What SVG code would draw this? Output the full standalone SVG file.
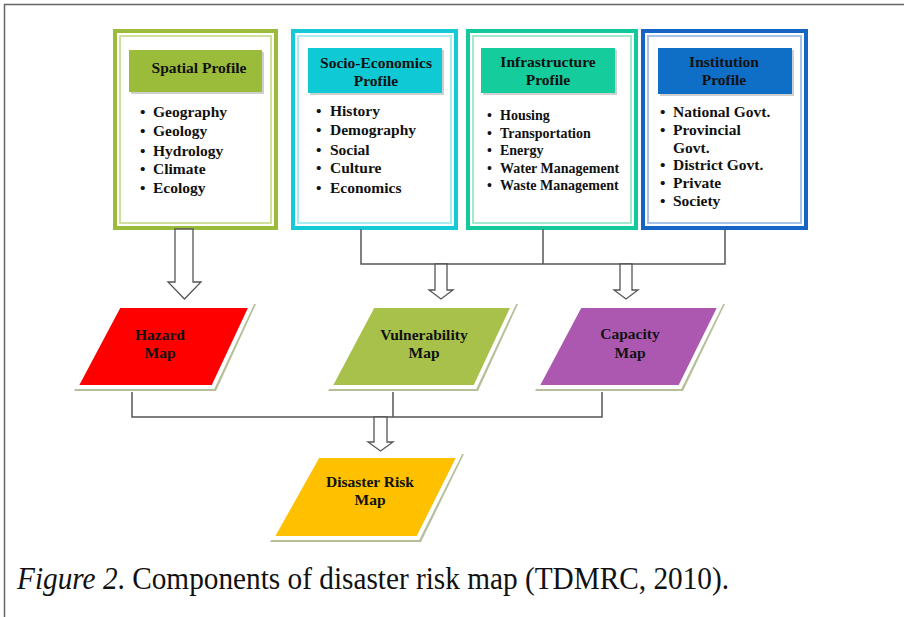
<svg xmlns="http://www.w3.org/2000/svg" width="904" height="617" viewBox="0 0 904 617">
<style>
.t{font-family:"Liberation Serif","Times New Roman",serif;font-weight:bold;font-size:15.5px;fill:#111}
.s{font-size:14px}
.c{text-anchor:middle}
.conn{fill:none;stroke:#555;stroke-width:1.5}
.arr{fill:#fff;stroke:#555;stroke-width:1.3}
.sh{fill:#b7bf9a}
.pw{stroke:#fff;stroke-width:4}
.tsh{fill:#cfcfcf}
.cap{font-family:"Liberation Serif","Times New Roman",serif;font-size:31px;fill:#111}
</style>
<rect width="904" height="617" fill="#fff"/>
<path d="M4.5 617 V4.5 H904" fill="none" stroke="#666" stroke-width="1.5"/>

<g id="spatial">
<rect x="115" y="31" width="161" height="197" fill="#fff" stroke="#9bbb3b" stroke-width="4"/>
<rect x="120" y="36" width="151" height="187" fill="none" stroke="#cfe09c" stroke-width="2"/>
<rect x="131" y="52" width="133" height="42" class="tsh"/>
<rect x="129" y="50" width="133" height="42" fill="#9bbb3b"/>
<text class="t c" x="199" y="73">Spatial Profile</text>
<text class="t"><tspan x="140" y="117">•</tspan><tspan x="153">Geography</tspan><tspan x="140" y="136">•</tspan><tspan x="153">Geology</tspan><tspan x="140" y="156">•</tspan><tspan x="153">Hydrology</tspan><tspan x="140" y="174">•</tspan><tspan x="153">Climate</tspan><tspan x="140" y="193">•</tspan><tspan x="153">Ecology</tspan></text>
</g>

<g id="socio">
<rect x="293" y="31" width="163" height="197" fill="#fff" stroke="#16c9d6" stroke-width="4"/>
<rect x="298" y="36" width="153" height="187" fill="none" stroke="#a8ecf0" stroke-width="2"/>
<rect x="310" y="50" width="134" height="45" class="tsh"/>
<rect x="308" y="48" width="134" height="45" fill="#0fc9d4"/>
<text class="t c" x="376" y="68">Socio-Economics</text>
<text class="t c" x="376" y="86">Profile</text>
<text class="t"><tspan x="316" y="116">•</tspan><tspan x="330">History</tspan><tspan x="316" y="135">•</tspan><tspan x="330">Demography</tspan><tspan x="316" y="155">•</tspan><tspan x="330">Social</tspan><tspan x="316" y="173">•</tspan><tspan x="330">Culture</tspan><tspan x="316" y="193">•</tspan><tspan x="330">Economics</tspan></text>
</g>

<g id="infra">
<rect x="468" y="31" width="168" height="197" fill="#fff" stroke="#13c89a" stroke-width="4"/>
<rect x="473" y="36" width="158" height="187" fill="none" stroke="#a2eacf" stroke-width="2"/>
<rect x="483" y="50" width="134" height="45" class="tsh"/>
<rect x="481" y="48" width="134" height="45" fill="#14cc9c"/>
<text class="t c" x="548" y="67">Infrastructure</text>
<text class="t c" x="548" y="85">Profile</text>
<text class="t s"><tspan x="487" y="120">•</tspan><tspan x="500">Housing</tspan><tspan x="487" y="137.5">•</tspan><tspan x="500">Transportation</tspan><tspan x="487" y="155">•</tspan><tspan x="500">Energy</tspan><tspan x="487" y="172.5">•</tspan><tspan x="500">Water Management</tspan><tspan x="487" y="190">•</tspan><tspan x="500">Waste Management</tspan></text>
</g>

<g id="institution">
<rect x="643" y="31" width="163" height="197" fill="#fff" stroke="#1664c4" stroke-width="4"/>
<rect x="648" y="36" width="153" height="187" fill="none" stroke="#a6c2ea" stroke-width="2"/>
<rect x="660" y="50" width="134" height="46" class="tsh"/>
<rect x="658" y="48" width="134" height="46" fill="#0f6fc6"/>
<text class="t c" x="724" y="67">Institution</text>
<text class="t c" x="724" y="85">Profile</text>
<text class="t"><tspan x="660" y="117">•</tspan><tspan x="673">National Govt.</tspan><tspan x="660" y="135">•</tspan><tspan x="673">Provincial</tspan><tspan x="673" y="153">Govt.</tspan><tspan x="660" y="170">•</tspan><tspan x="673">District Govt.</tspan><tspan x="660" y="188">•</tspan><tspan x="673">Private</tspan><tspan x="660" y="206">•</tspan><tspan x="673">Society</tspan></text>
</g>

<g id="connectors">
<path class="conn" d="M361 229 V264 H725 V229 M543 229 V264"/>
<path class="conn" d="M132 392 V417 H602 V392 M393 392 V417"/>
<path class="arr" d="M175 229 H193 V282 H201 L184.5 299 L168 282 H175 Z"/>
<path class="arr" d="M435 264 H447 V290 H453 L441 299 L429 290 H435 Z"/>
<path class="arr" d="M620 264 H632 V290 H638 L626 299 L614 290 H620 Z"/>
<path class="arr" d="M374 417 H387 V442 H393 L380.5 451 L368 442 H374 Z"/>
</g>

<g id="hazard">
<polygon class="sh" points="124,304 256,304 216,391 74,391"/>
<polygon class="pw" points="119,306 251,306 213,387 76,387" fill="#ff0000"/>
<text class="t c" x="160" y="340">Hazard</text>
<text class="t c" x="160" y="358">Map</text>
</g>

<g id="vulnerability">
<polygon class="sh" points="378,304 518,304 478,391 328,391"/>
<polygon class="pw" points="373,306 513,306 475,387 330,387" fill="#a7c14a"/>
<text class="t c" x="424" y="340">Vulnerability</text>
<text class="t c" x="424" y="358">Map</text>
</g>

<g id="capacity">
<polygon class="sh" points="585,304 725,304 683,391 535,391"/>
<polygon class="pw" points="580,306 720,306 680,387 537,387" fill="#ad58b0"/>
<text class="t c" x="630" y="339">Capacity</text>
<text class="t c" x="630" y="358">Map</text>
</g>

<g id="disaster">
<polygon class="sh" points="323,454 464,454 421,542 270,542"/>
<polygon class="pw" points="318,456 459,456 418,538 272,538" fill="#ffc000"/>
<text class="t c" x="370" y="487">Disaster Risk</text>
<text class="t c" x="370" y="505">Map</text>
</g>

<text class="cap" transform="translate(17 589) scale(0.945 1)"><tspan font-style="italic">Figure 2</tspan>. Components of disaster risk map (TDMRC, 2010).</text>
</svg>
